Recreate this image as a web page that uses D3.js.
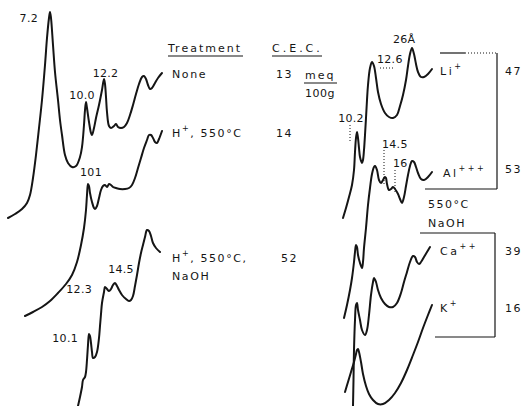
<!DOCTYPE html>
<html><head><meta charset="utf-8">
<script src="https://cdn.jsdelivr.net/npm/d3@7"></script>
<style>
html,body{margin:0;padding:0;background:#fff;}
svg{display:block;}
text{font-family:"DejaVu Sans",sans-serif;fill:#151515;}
</style></head><body>
<svg id="fig" width="525" height="406"></svg>
<script>
// Diffractograms: [recorder-chart position (divisions), pen deflection (intensity units)]
const noneTrace = [[4,1],[7.5,3],[11,5.5],[13.5,8.5],[15,12.5],[16.5,21],[18,32.5],[19.5,46],[21,60],[22.5,77.5],[23.5,91],[24.5,101],[25,104],[25.5,101],[26.5,87.5],[27.5,74],[29,60],[30,50],[31,42.5],[32.5,32.5],[34,28.5],[36,26.5],[38,27],[40,31.5],[41,36.5],[42,47.5],[42.5,55],[43,59],[43.5,56],[44.5,49],[45.5,43.5],[46,42.5],[47,46],[48,51],[49.5,57.5],[51,65],[52,70.5],[52.5,68],[53,61.5],[53.5,54],[54.5,47],[55.5,46],[57,47],[58,48],[59,46.5],[60.5,46],[62,46.5],[63.5,48.5],[65,52.5],[66.5,57.5],[68,63],[69.5,68],[71,71.5],[72,72],[73,70.5],[74,67.5],[75,65.5],[76,66],[77.5,68.5],[79,71],[81,73.5]];
const acid550Trace = [[12.5,2],[16.5,4],[21,6.5],[25,9.5],[29,13.5],[33,18],[36,22.5],[38.5,29],[40.5,37.5],[42,46],[43,55],[43.5,62.5],[44,68],[44.5,67],[45,63.5],[46,59],[47,56],[47.5,55.5],[48.5,57],[49.5,61],[50.5,65],[51.5,67],[52.5,67.5],[53.5,66.5],[54.5,68],[55.5,67.5],[56.5,66.5],[58,66],[60,65.5],[62.5,65.5],[64.5,66],[66,67.5],[67.5,71],[69,76],[70.5,81],[72,86],[73.5,90],[74.5,92.5],[75.5,92.5],[76.5,91],[77.5,89],[78.5,88.5],[79.5,90.5],[81,94.5]];
const acidNaohTrace = [[39,0],[40,4.5],[41,9.5],[41.5,13],[42.5,14.5],[43,17],[43.5,23],[44,30.5],[44.5,36],[45,35],[45.5,31.5],[46,27],[46.5,24],[47.5,24.5],[48.5,27],[49.5,34],[50,40],[50.5,46],[51,51.5],[52,57],[52.5,59.5],[53.5,58.5],[54.5,57.5],[55.5,58.5],[56.5,60.5],[57.5,61.5],[58.5,60],[59.5,58],[61,55.5],[63,53.5],[64.5,52.5],[65.5,53],[66.5,55],[67.5,60],[68.5,65.5],[69.5,71.5],[70.5,76.5],[71.5,80.5],[72.5,84.5],[73.5,88],[74.5,87.5],[75.5,85],[76.5,81.5],[78,79],[80,77]];
const liTrace = [[171.5,1],[173,6],[174.5,11.5],[176,17.5],[177,25],[177.5,34],[178,41],[178.5,44],[179,41],[179.5,36],[180,31.5],[181,28.5],[181.5,30],[182,35],[182.5,42.5],[183,51],[183.5,60],[184,67.5],[185,76],[186,79],[187,77],[188,71],[189,64],[190.5,58],[192.5,53.5],[194.5,51.5],[196.5,51],[198.5,52.5],[200,57],[201.5,62.5],[203,70],[204,77],[205,83],[206,86],[207,83],[208,78],[209,74],[210.5,71.5],[212,71.5],[214,73],[216,75.5]];
const alTrace = [[172,1],[173.5,7.5],[175,15],[176,21],[177,29],[177.5,34],[178,37.5],[178.5,36.5],[179,32.5],[180,28.5],[181,26],[181.5,29],[182,36],[183,46],[184,57.5],[185,66],[186,73],[187,76.5],[187.5,77],[188.5,75],[189.5,70],[190.5,68.5],[191.5,70],[192.5,71.5],[193,71],[193.5,68],[194.5,65],[195.5,65.5],[196.5,66.5],[197.5,65.5],[199,63],[200,60.5],[201,58.5],[202,61.5],[203,67],[204,72.5],[205,77],[206,79.5],[207,79],[208,76.5],[209,73.5],[210.5,70.5],[212,70],[214,71.5],[216,74]];
const caTrace = [[176.5,0],[176.75,13],[177,28],[177.5,43],[178,50.5],[178.5,51.5],[179,48],[180,43],[181,38],[182.5,35.5],[183.5,38],[184.5,45.5],[185.5,55.5],[186.5,62],[187,64],[188,62],[189,58],[190.5,54],[192.5,51],[194.5,49.5],[196.5,49.5],[198.5,51.5],[200.5,56.5],[202,62],[203.5,67],[205,72],[206.5,75],[207.5,74.5],[208.5,72],[209.5,71],[210.5,72],[212,74.5],[213.5,77],[215,79.5]];
const kTrace = [[172.5,7],[174,12],[175.5,17],[177,22],[178,26],[178.5,28],[179,28.5],[179.5,27],[180.5,22],[181.5,16],[183,10],[184.5,6],[186.5,3],[189,1],[191.5,1],[194.5,3],[197.5,6.5],[200.5,11.5],[203.5,18],[206.5,25.5],[209,32],[211.5,39],[214,45.5],[216,50.5]];

// d-spacing labels (Å) and the peak each one marks
const leftPeakLabels = ["7.2", "10.0", "12.2", "101", "12.3", "14.5", "10.1"];
const leftPeakAt = [["none",25,104],["none",43,59],["none",52,70.5],["acid550",44,68],["acidNaoh",52.5,59.5],["acidNaoh",57.5,61.5],["acidNaoh",44.5,36]];
const rightPeakLabels = ["10.2", "12.6", "26Å", "14.5", "16"];
const rightPeakAt = [["li",178.5,44],["li",186,79],["li",206,86],["al",193,71],["al",196.5,66.5]];

// treatment table
const tableHeaders = ["Treatment", "C.E.C."];
const treatments = [["None"], ["H+, 550°C"], ["H+, 550°C,", "NaOH"]];
const treatmentCec = ["13", "14", "52"];
const cecUnit = ["meq", "100g"];

// exchange cations and their C.E.C.
const cations = ["Li", "Al", "Ca", "K"];
const cationCharge = ["+", "+++", "++", "+"];
const cationCec = ["47", "53", "39", "16"];
const groupNote = ["550°C", "NaOH"];

const svg = d3.select("#fig");
const x = d3.scaleLinear().domain([0, 262.5]).range([0, 525]);
const baseline = {none: 220, acid550: 320, acidNaoh: 406, li: 220, al: 320, ca: 406, k: 406};
const yScale = {};
for (const k in baseline) yScale[k] = d3.scaleLinear().domain([0, 100]).range([baseline[k], baseline[k] - 200]);
const traces = {none: noneTrace, acid550: acid550Trace, acidNaoh: acidNaohTrace, li: liTrace, al: alTrace, ca: caTrace, k: kTrace};

const ink = "#151515";
for (const k in traces) {
  const ys = yScale[k];
  const line = d3.line().x(d => x(d[0])).y(d => ys(d[1])).curve(d3.curveCatmullRom.alpha(0.5));
  svg.append("path").attr("d", line(traces[k])).attr("fill", "none")
    .attr("stroke", ink).attr("stroke-width", 2).attr("stroke-linejoin", "round").attr("stroke-linecap", "round");
}

function px(at) { return [x(at[1]), yScale[at[0]](at[2])]; }

// peak labels: offsets from the peak, in pixels
const leftOffsets = [[-12,10,"end"],[-4,-3,"middle"],[1.5,-2,"middle"],[3,-8,"middle"],[-13,6,"end"],[6,-10,"middle"],[-11,8,"end"]];
leftPeakLabels.forEach((t, i) => {
  const [px0, py0] = px(leftPeakAt[i]);
  const o = leftOffsets[i];
  svg.append("text").attr("x", px0 + o[0]).attr("y", py0 + o[1]).attr("text-anchor", o[2])
    .attr("font-size", 11).attr("letter-spacing", 0.3).text(t);
});
const rightOffsets = [[-6,-10,"middle"],[5,1,"start"],[-19,-5,"start"],[-4,-30,"start"],[0,-20,"start"]];
rightPeakLabels.forEach((t, i) => {
  const [px0, py0] = px(rightPeakAt[i]);
  const o = rightOffsets[i];
  svg.append("text").attr("x", px0 + o[0]).attr("y", py0 + o[1]).attr("text-anchor", o[2])
    .attr("font-size", 11).attr("letter-spacing", 0.3).text(t);
});

// dotted leaders
const dotted = (x1, y1, x2, y2) => svg.append("line").attr("x1", x1).attr("y1", y1).attr("x2", x2).attr("y2", y2)
  .attr("stroke", ink).attr("stroke-width", 1).attr("stroke-dasharray", "1,2");
{
  const [a, b] = px(rightPeakAt[0]); dotted(a - 7, b - 7, a - 7, b + 10);
  const [c, d] = px(rightPeakAt[1]); dotted(c + 8, d + 6, c + 23, d + 6);
  const [e, f] = px(rightPeakAt[3]); dotted(e - 2, f - 28, e - 2, f + 6);
  const [g, h] = px(rightPeakAt[4]); dotted(g + 2, h - 17, g + 2, h + 5);
}

// text helper with optional raised charge
function label(xp, yp, main, sup, rest, opts = {}) {
  const t = svg.append("text").attr("x", xp).attr("y", yp).attr("font-size", opts.size || 11)
    .attr("letter-spacing", opts.ls == null ? 2 : opts.ls);
  t.append("tspan").text(main);
  if (sup) t.append("tspan").attr("dy", -6).attr("font-size", 8).text(sup);
  if (rest) t.append("tspan").attr("dy", sup ? 6 : 0).text(rest);
  return t;
}
const hline = (x1, x2, y, w = 1.2) => svg.append("line").attr("x1", x1).attr("x2", x2).attr("y1", y).attr("y2", y)
  .attr("stroke", ink).attr("stroke-width", w);
const vline = (xv, y1, y2, w = 1.2) => svg.append("line").attr("x1", xv).attr("x2", xv).attr("y1", y1).attr("y2", y2)
  .attr("stroke", ink).attr("stroke-width", w);

// table header
label(168, 52, tableHeaders[0], null, null, {ls: 2});
hline(168, 243, 56);
label(272, 52, tableHeaders[1], null, null, {ls: 3});
hline(272, 322, 56);

// table rows
const rowY = [78, 137, 262];
treatments.forEach((lines, i) => {
  lines.forEach((s, j) => {
    const m = s.match(/^H\+(.*)$/);
    if (m) label(172, rowY[i] + j * 18, "H", "+", m[1], {ls: 1.6});
    else label(172, rowY[i] + j * 18, s, null, null, {ls: 1.6});
  });
  label(i === 2 ? 281 : 276, rowY[i], treatmentCec[i], null, null, {ls: 1.5});
});
label(305, 79, cecUnit[0], null, null, {ls: 2});
hline(304, 337, 83);
label(305, 97, cecUnit[1], null, null, {ls: 0.5});

// cation labels and brackets
const cationY = [75, 177, 255, 312];
cations.forEach((c, i) => {
  label(i === 1 ? 443 : 440, cationY[i], c, cationCharge[i], null, {ls: 2.5});
  label(505, i === 1 ? 173 : cationY[i], cationCec[i], null, null, {ls: 1.5});
});
hline(440, 465, 53);
dotted(465, 53, 497, 53);
vline(497, 53, 189);
hline(425, 497, 189);
label(428, 208, groupNote[0], null, null, {ls: 1.5});
label(428, 227, groupNote[1], null, null, {ls: 1.5});
hline(420, 495, 233);
vline(495, 233, 337);
hline(435, 495, 337);
</script>
</body></html>
